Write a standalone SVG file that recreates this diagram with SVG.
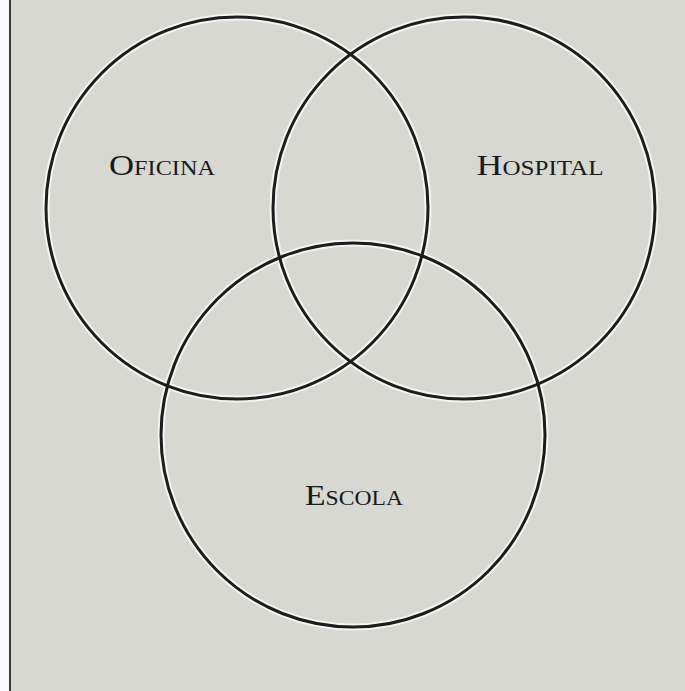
<svg xmlns="http://www.w3.org/2000/svg" width="685" height="691" viewBox="0 0 685 691">
  <style>
    .halo { fill: none; stroke: #f4f4f0; stroke-width: 7; }
    .ring { fill: none; stroke: #1c1c1c; stroke-width: 3; }
    .lbl { font-family: "Liberation Serif", "DejaVu Serif", serif; font-variant: small-caps; font-size: 30px; fill: #1a1a1a; text-anchor: middle; }
  </style>
  <rect x="0" y="0" width="685" height="691" fill="#fafafa"/>
  <rect x="10" y="0" width="675" height="691" fill="#d7d8d2"/>
  <line x1="10" y1="0" x2="10" y2="691" stroke="#3a3a3a" stroke-width="2"/>
  <g id="halos">
    <circle class="halo" cx="237" cy="208" r="191"/>
    <circle class="halo" cx="464" cy="208" r="191"/>
    <circle class="halo" cx="353" cy="435" r="192"/>
  </g>
  <g id="oficina">
    <circle class="ring" cx="237" cy="208" r="191"/>
    <text class="lbl" x="162" y="175" textLength="106" lengthAdjust="spacingAndGlyphs">Oficina</text>
  </g>
  <g id="hospital">
    <circle class="ring" cx="464" cy="208" r="191"/>
    <text class="lbl" x="540" y="175" textLength="127" lengthAdjust="spacingAndGlyphs">Hospital</text>
  </g>
  <g id="escola">
    <circle class="ring" cx="353" cy="435" r="192"/>
    <text class="lbl" x="354" y="505" textLength="98" lengthAdjust="spacingAndGlyphs">Escola</text>
  </g>
  <g id="connectors"></g>
</svg>
